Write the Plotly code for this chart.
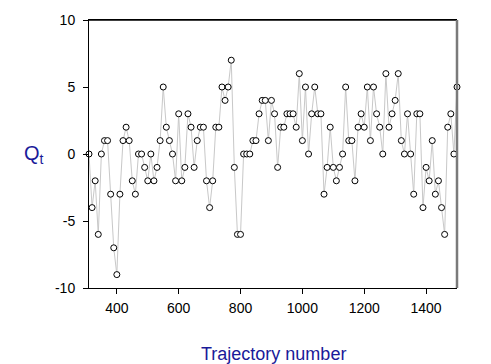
import plotly.graph_objects as go

trajectory = list(range(310, 1501, 10))
q_values = [
    0, -4, -2, -6, 0, 1, 1, -3, -7, -9,
    -3, 1, 2, 1, -2, -3, 0, 0, -1, -2,
    0, -2, -1, 1, 5, 2, 1, 0, -2, 3,
    -2, -1, 3, 2, -1, 1, 2, 2, -2, -4,
    -2, 2, 2, 5, 4, 5, 7, -1, -6, -6,
    0, 0, 0, 1, 1, 3, 4, 4, 1, 4,
    3, -1, 2, 2, 3, 3, 3, 2, 6, 1,
    5, 0, 3, 5, 3, 3, -3, -1, 2, -1,
    -2, -1, 0, 5, 1, 1, -2, 2, 3, 2,
    5, 1, 5, 3, 2, 0, 6, 2, 3, 4,
    6, 1, 0, 3, 0, -3, 3, 3, -4, -1,
    -2, 1, -3, -2, -4, -6, 2, 3, 0, 5,
]
x_ticks = [400, 600, 800, 1000, 1200, 1400]
y_ticks = [-10, -5, 0, 5, 10]
y_tick_labels = ["-10", "-5", "0", "5", "10"]

title_color = "#1a1a99"
font = "Liberation Sans, Arial, sans-serif"

fig = go.Figure()
fig.add_trace(go.Scatter(
    x=trajectory, y=q_values, mode="lines+markers",
    line=dict(color="#c8c8c8", width=1),
    marker=dict(symbol="circle", size=6, color="white",
                line=dict(color="black", width=1)),
    cliponaxis=False, showlegend=False,
))

fig.update_layout(
    width=491, height=364,
    margin=dict(l=89, r=34, t=16, b=76),
    paper_bgcolor="white", plot_bgcolor="white",
    font=dict(family=font, size=14, color="black"),
    xaxis=dict(range=[310, 1500], tickvals=x_ticks, ticks="outside",
               ticklen=5, tickcolor="black", showgrid=False, zeroline=False,
               showline=True, linecolor="black", linewidth=1, mirror=True,
               tickfont=dict(size=14), ticklabelstandoff=2),
    yaxis=dict(range=[-10, 10], tickvals=y_ticks, ticktext=y_tick_labels,
               ticks="outside", ticklen=5, tickcolor="black",
               showgrid=False, zeroline=False,
               showline=True, linecolor="black", linewidth=1,
               tickfont=dict(size=14), ticklabelstandoff=5),
    shapes=[
        dict(type="line", xref="paper", yref="paper", x0=0, x1=1, y0=1, y1=1,
             layer="above", line=dict(color="black", width=1.5)),
        dict(type="line", xref="paper", yref="paper", x0=1, x1=1, y0=0, y1=1,
             layer="above", line=dict(color="#7a7a7a", width=2.5)),
    ],
    annotations=[
        dict(text="Q<sub>t</sub>", xref="paper", yref="paper",
             x=-0.15, y=0.5, xanchor="center", yanchor="middle",
             showarrow=False, font=dict(size=20, color=title_color, family=font)),
        dict(text="Trajectory number", xref="paper", yref="paper",
             x=0.5, y=-0.2, xanchor="center", yanchor="top",
             showarrow=False, font=dict(size=18, color=title_color, family=font)),
    ],
)

fig.write_html(
    "out.html", config={"displayModeBar": False},
    post_script="document.body.style.margin='0';document.body.style.padding='0';"
                "document.documentElement.style.overflow='hidden';",
)
